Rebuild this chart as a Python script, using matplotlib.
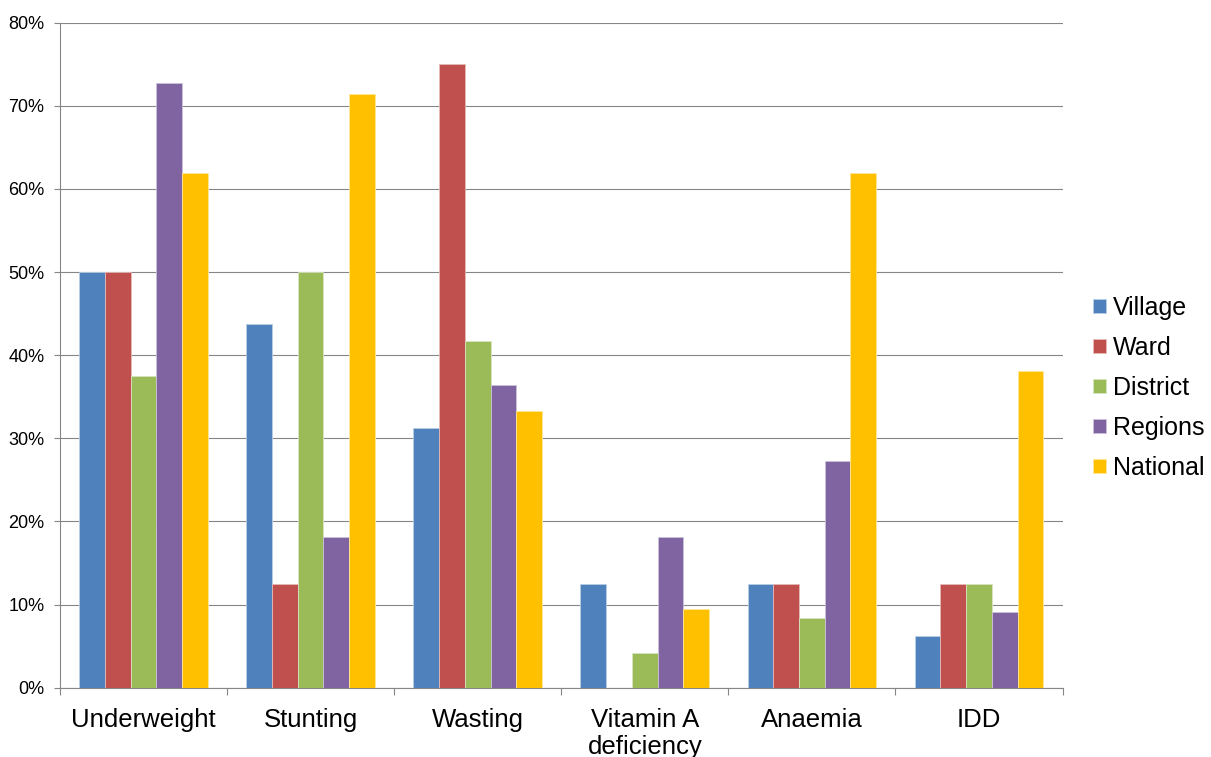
import numpy as np
import matplotlib
matplotlib.use('Agg')
import matplotlib.pyplot as plt

plt.rcParams['font.family'] = ['Liberation Sans', 'DejaVu Sans']

categories = ['Underweight', 'Stunting', 'Wasting', 'Vitamin A\ndeficiency', 'Anaemia', 'IDD']
series = ['Village', 'Ward', 'District', 'Regions', 'National']
village = [50.0, 43.75, 31.25, 12.5, 12.5, 6.25]
ward = [50.0, 12.5, 75.0, 0.0, 12.5, 12.5]
district = [37.5, 50.0, 41.67, 4.17, 8.33, 12.5]
regions = [72.73, 18.18, 36.36, 18.18, 27.27, 9.09]
national = [61.9, 71.43, 33.33, 9.52, 61.9, 38.1]
colors = ['#4F81BD', '#C0504D', '#9BBB59', '#8064A2', '#FFC000']
edges = ['#B9CDE5', '#E6B9B8', '#D7E4BD', '#CCC1DA', '#FFE699']

W, H = 1211, 757
fig = plt.figure(figsize=(W / 100, H / 100), dpi=100)
ax = fig.add_axes([60 / W, (H - 687.7) / H, (1062.5 - 60) / W, (687.7 - 22.7) / H])

x = np.arange(len(categories))
bw = 0.154
for i, (name, vals) in enumerate(zip(series, [village, ward, district, regions, national])):
    ax.bar(x + (i - 2) * bw, vals, width=bw, color=colors[i], edgecolor=edges[i],
           linewidth=0.6, label=name, zorder=3)

ax.set_xlim(-0.5, len(categories) - 0.5)
ax.set_ylim(0, 80)
ax.set_yticks(np.arange(0, 81, 10))
ax.set_yticklabels([f'{v}%' for v in range(0, 81, 10)], fontsize=13)
ax.yaxis.grid(True, color='#868686', linewidth=0.8)
ax.set_axisbelow(True)

ax.set_xticks(x)
ax.set_xticklabels(categories, fontsize=18.5, linespacing=1.15)
ax.set_xticks(np.arange(-0.5, len(categories)), minor=True)
ax.tick_params(axis='x', which='major', length=0, pad=14.5)
ax.tick_params(axis='x', which='minor', length=5, color='#868686', width=0.8)
ax.tick_params(axis='y', length=4.3, color='#868686', width=0.8, pad=7)

for s in ['top', 'right']:
    ax.spines[s].set_visible(False)
for s in ['left', 'bottom']:
    ax.spines[s].set_color('#868686')
    ax.spines[s].set_linewidth(0.8)

ax.legend(loc='center left', bbox_to_anchor=(1093 / W, 1 - 388 / H),
          bbox_transform=fig.transFigure, frameon=False, fontsize=18,
          handlelength=0.5, handleheight=0.5, handletextpad=0.3,
          labelspacing=0.64, borderpad=0, borderaxespad=0)

fig.savefig('out.png', dpi=100)
